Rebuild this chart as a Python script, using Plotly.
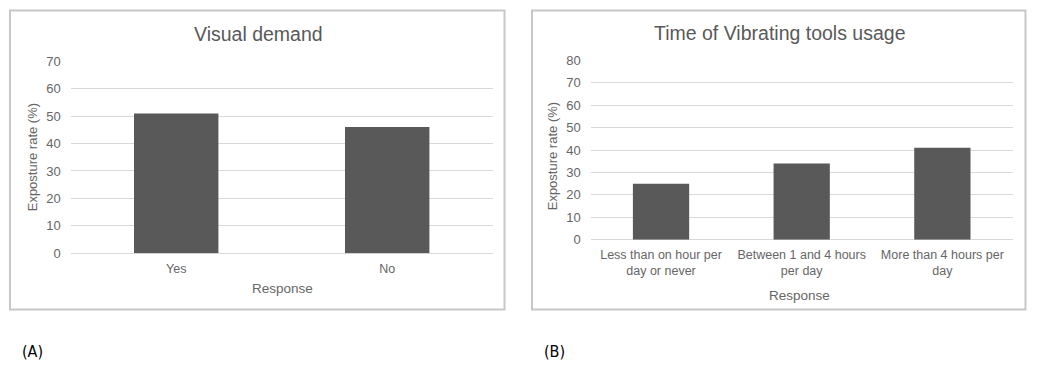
import plotly.graph_objects as go

W, H = 1038, 372

# Data
cats_a = ["Yes", "No"]
vals_a = [51, 46]
cats_b = ["Less than on hour per<br>day or never", "Between 1 and 4 hours<br>per day", "More than 4 hours per<br>day"]
vals_b = [25, 34, 41]
title_a = "Visual demand"
title_b = "Time of Vibrating tools usage"
ytitle = "Exposture rate (%)"
xtitle = "Response"

TXT = "#595959"
TICK = "#666666"
BAR = "#595959"
GRID = "#d9d9d9"
FONT = "Liberation Sans, Arial, sans-serif"

# empirical vertical correction of the capture
VS, VA = 0.955, 6.45

def px(x):
    return x / W

def py(y):
    yy = (y - VA) / VS
    return 1 - yy / H

fig = go.Figure()
fig.add_trace(go.Bar(x=cats_a, y=vals_a, marker=dict(color=BAR, line=dict(width=0)),
                     xaxis="x", yaxis="y", showlegend=False))
fig.add_trace(go.Bar(x=cats_b, y=vals_b, marker=dict(color=BAR, line=dict(width=0)),
                     xaxis="x2", yaxis="y2", showlegend=False))

common_x = dict(showgrid=False, showline=False, zeroline=False, ticks="",
                tickfont=dict(family=FONT, size=12.5, color=TICK), ticklabelstandoff=6,
                fixedrange=True)
common_y = dict(showgrid=True, gridcolor=GRID, gridwidth=1, showline=False, zeroline=True,
                zerolinecolor=GRID, zerolinewidth=1, ticks="", dtick=10,
                tickfont=dict(family=FONT, size=13, color=TICK), ticklabelstandoff=9,
                fixedrange=True)

fig.update_layout(
    autosize=True,
    margin=dict(l=0, r=0, t=0, b=0),
    paper_bgcolor="white", plot_bgcolor="white",
    bargap=0.6,
    xaxis=dict(domain=[px(70.7), px(492.7)], anchor="y", **common_x),
    yaxis=dict(domain=[py(251.5), py(60.5)], anchor="x", range=[0, 70], **common_y),
    xaxis2=dict(domain=[px(590.7), px(1012.7)], anchor="y2", **common_x),
    yaxis2=dict(domain=[py(238), py(59.7)], anchor="x2", range=[0, 80], **common_y),
    font=dict(family=FONT, color=TXT),
)

shapes = []
for (x0, y0, x1, y1) in [(10, 10, 504.5, 307.5), (532, 10, 1025.5, 307.5)]:
    shapes.append(dict(type="rect", xref="paper", yref="paper",
                       x0=px(x0), x1=px(x1), y0=py(y1), y1=py(y0),
                       line=dict(color="#c8c8c8", width=2), fillcolor="rgba(0,0,0,0)"))
fig.update_layout(shapes=shapes)

ann = []
def add(text, x, y, size, angle=0, color=TXT, family=FONT, xanchor="center"):
    ann.append(dict(text=text, x=px(x), y=py(y), xref="paper", yref="paper",
                    showarrow=False, textangle=angle, xanchor=xanchor, yanchor="middle",
                    font=dict(family=family, size=size, color=color)))

add(title_a, 258, 33, 19.5)
add(title_b, 779, 32, 19.5)
add(ytitle, 32, 156, 13, angle=-90, color=TICK)
add(ytitle, 552, 155, 13, angle=-90, color=TICK)
add(xtitle, 282, 287, 13.5, color=TICK)
add(xtitle, 799, 294, 13.5, color=TICK)
add("(A)", 20, 349, 16, color="#000000", family="DejaVu Sans Condensed, Liberation Sans Narrow, sans-serif", xanchor="left")
add("(B)", 542, 349, 16, color="#000000", family="DejaVu Sans Condensed, Liberation Sans Narrow, sans-serif", xanchor="left")
fig.update_layout(annotations=ann)

post = ("document.documentElement.style.margin='0';document.documentElement.style.overflow='hidden';"
        "document.body.style.margin='0';document.body.style.overflow='hidden';"
        "var gd=document.getElementById('{plot_id}');gd.style.width='100vw';gd.style.height='100vh';"
        "Plotly.Plots.resize(gd);")

fig.write_html("out.html", default_width="100vw", default_height="100vh",
               config={"displayModeBar": False, "responsive": True},
               post_script=post)
